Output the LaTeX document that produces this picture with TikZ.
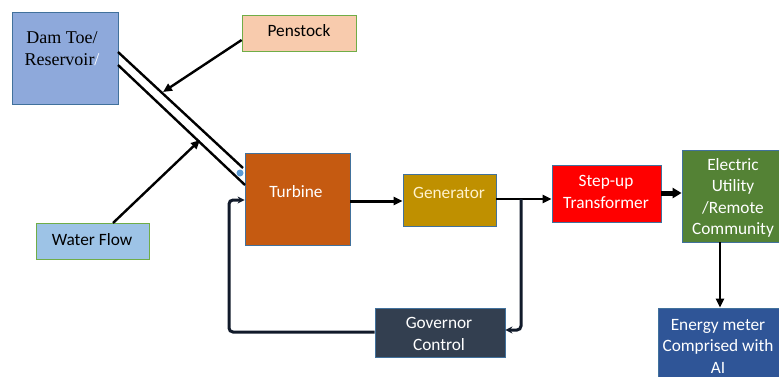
\documentclass[tikz,border=0pt]{standalone}
\usepackage{fontspec}
\setmainfont{Carlito}
\newfontfamily\serifface{Liberation Serif}
\usetikzlibrary{arrows.meta,fit,calc}

\definecolor{damfill}{HTML}{8EA9DB}
\definecolor{edgeblue}{HTML}{41719C}
\definecolor{edgegreen}{HTML}{70AD47}
\definecolor{penfill}{HTML}{F8CBAD}
\definecolor{waterfill}{HTML}{9DC3E6}
\definecolor{turbfill}{HTML}{C55A11}
\definecolor{genfill}{HTML}{BF9000}
\definecolor{trafill}{HTML}{FF0000}
\definecolor{utilfill}{HTML}{548235}
\definecolor{meterfill}{HTML}{2F5597}
\definecolor{govfill}{HTML}{333F50}
\definecolor{loopline}{HTML}{111A2A}
\definecolor{dotblue}{HTML}{5B9BD5}
\definecolor{gentext}{HTML}{FFF2CC}

\tikzset{
  blk/.style={inner sep=0pt, draw=edgeblue, line width=0.8pt},
  gblk/.style={inner sep=0pt, draw=edgegreen, line width=0.8pt},
  lbl/.style={font=\fontsize{17.3}{21.5}\selectfont, align=center, inner sep=0pt, text=white},
  dlbl/.style={lbl, text=black},
  flow/.style={line width=2.4pt, -{Triangle[length=9pt,width=8pt]}},
  pipe/.style={line width=2.4pt},
  loop/.style={draw=loopline, line width=3pt, rounded corners=4pt}
}

\begin{document}
\begin{tikzpicture}[x=1pt,y=-1pt]
\useasboundingbox (0,0) rectangle (779,376);
\clip (0,0) rectangle (779,376);

% blocks
\node[blk, fill=damfill, fit={(12,12)(118,104)}] (dam) {};
\node[gblk, fill=penfill, fit={(242,15)(356,51)}] (pen) {};
\node[gblk, fill=waterfill, fit={(36,223)(149,259)}] (water) {};
\node[blk, fill=turbfill, fit={(245,153)(350,245)}] (turb) {};
\node[blk, fill=genfill, fit={(403,174)(496,226)}] (gen) {};
\node[blk, fill=trafill, fit={(552,165)(661,222)}] (tra) {};
\node[blk, fill=utilfill, fit={(682,150)(790,242)}] (util) {};
\node[blk, fill=meterfill, fit={(658,308)(790,385)}] (meter) {};
\node[blk, fill=govfill, fit={(375,308)(505,357)}] (gov) {};

% labels
\node[dlbl, font=\serifface\fontsize{18}{22}\selectfont] (damtxt) at (62,49) {Dam Toe/\\Reservoir\textcolor{white}{/}};
\node[dlbl] (pentxt) at (299,31) {Penstock};
\node[dlbl] (watertxt) at (92,240) {Water Flow};
\node[lbl] (turbtxt) at (296,192) {Turbine};
\node[lbl, text=gentext] (gentxt) at (449,193) {Generator};
\node[lbl] (tratxt) at (606,192) {Step-up\\Transformer};
\node[lbl] (utiltxt) at (733,198) {Electric\\Utility\\/Remote\\Community};
\node[lbl] (metertxt) at (718,346) {Energy meter\\Comprised with\\AI};
\node[lbl] (govtxt) at (439,334) {Governor\\Control};

% penstock pipe
\coordinate (pA1) at (118,52);
\coordinate (pB1) at (243,168);
\coordinate (pA2) at (118,65);
\coordinate (pB2) at (245,185);
\draw[pipe] (pA1) -- (pB1);
\draw[pipe] (pA2) -- (pB2);
\fill[dotblue] (240,173) circle (3.5pt);

% inflows to the pipe
\coordinate (penin) at (163,92);
\coordinate (waterin) at (200,140);
\draw[flow] (pen.west |- 0,40) -- (penin);
\draw[flow] (113,223) -- (waterin);

% power path
\draw[flow, line width=3pt] (turb.east |- 0,201) -- (gen.west |- 0,201);
\draw[flow] (gen.east |- 0,199) -- (tra.west |- 0,199);
\draw[line width=5pt, -{Triangle[length=9pt,width=10pt]}] (tra.east |- 0,193) -- (util.west |- 0,193);
\draw[flow] (util.south -| 720,0) -- (meter.north -| 720,0);

% governor feedback loop
\coordinate (tap) at (521,199);
\draw[loop, -{Stealth[length=7pt,width=7pt]}] (tap) -- (521,330) -- (gov.east |- 0,330);
\draw[loop, -{Stealth[length=7pt,width=7pt]}] (gov.west |- 0,332) -- (229,332) -- (229,200) -- (turb.west |- 0,200);
\end{tikzpicture}
\end{document}
